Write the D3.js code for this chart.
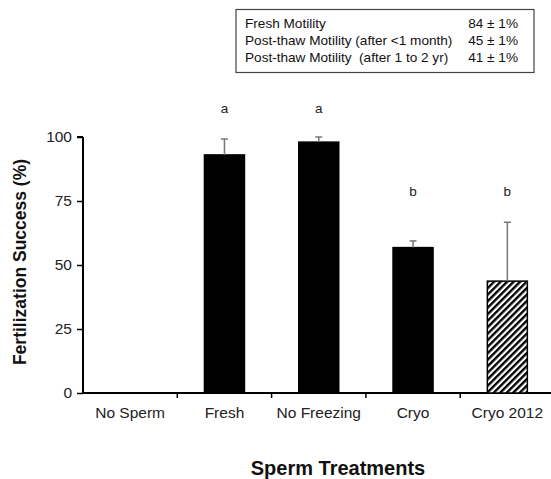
<!DOCTYPE html>
<html>
<head>
<meta charset="utf-8">
<script src="https://cdn.jsdelivr.net/npm/d3@7"></script>
<style>
  body { margin: 0; background: #fff; }
  text { font-family: "Liberation Sans", Arial, sans-serif; white-space: pre; }
</style>
</head>
<body>
<div id="chart"></div>
<script>
// data
const treatments = ["No Sperm", "Fresh", "No Freezing", "Cryo", "Cryo 2012"];
const success = [0, 93, 98, 56.8, 43.7];
const errors = [0, 6.2, 2, 2.6, 23];
const letters = ["", "a", "a", "b", "b"];
const hatched = [false, false, false, false, true];
const yTicks = [0, 25, 50, 75, 100];

const motilityLabels = ["Fresh Motility", "Post-thaw Motility (after <1 month)", "Post-thaw Motility  (after 1 to 2 yr)"];
const motilityValues = ["84 \u00b1 1%", "45 \u00b1 1%", "41 \u00b1 1%"];

const svg = d3.select("#chart")
    .append("svg")
        .attr("width", 551)
        .attr("height", 479);

// hatch pattern for the 2012 bar
const pattern = svg.append("defs")
    .append("pattern")
        .attr("id", "hatch")
        .attr("patternUnits", "userSpaceOnUse")
        .attr("width", 4.6)
        .attr("height", 4.6)
        .attr("patternTransform", "rotate(45)");
pattern.append("rect")
    .attr("width", 4.6)
    .attr("height", 4.6)
    .attr("fill", "white");
pattern.append("rect")
    .attr("width", 2.4)
    .attr("height", 4.6)
    .attr("fill", "black");

const x = d3.scaleBand()
    .domain(treatments)
    .range([83, 554.5]);

const y = d3.scaleLinear()
    .domain([0, 100])
    .range([393, 137]);

// axes
svg.append("g")
    .attr("transform", "translate(83,0)")
    .call(d3.axisLeft(y).tickValues(yTicks).tickSize(6).tickPadding(5))
    .call(g => g.select(".domain").attr("stroke-width", 2).attr("d", "M0," + y(0) + "V" + y(100) + "M-6," + y(100) + "H0"))
    .call(g => g.selectAll(".tick line").attr("stroke-width", 1.5))
    .call(g => g.selectAll(".tick text").attr("font-size", 15.5).attr("fill", "#222"));

const xAxis = svg.append("g")
    .attr("transform", "translate(0," + y(0) + ")");
xAxis.append("line")
    .attr("x1", 83)
    .attr("x2", 551)
    .attr("stroke", "black")
    .attr("stroke-width", 2);
xAxis.selectAll("line.tick")
    .data(treatments.slice(1))
    .enter()
    .append("line")
        .attr("class", "tick")
        .attr("x1", d => x(d))
        .attr("x2", d => x(d))
        .attr("y1", 0)
        .attr("y2", 5)
        .attr("stroke", "black")
        .attr("stroke-width", 1.5);
xAxis.selectAll("text")
    .data(treatments)
    .enter()
    .append("text")
        .attr("x", d => x(d) + x.bandwidth() / 2)
        .attr("y", 25)
        .attr("text-anchor", "middle")
        .attr("font-size", 15.5)
        .attr("fill", "#222")
        .text(d => d);

// bars
const barW = 40;
const rows = treatments.map((t, i) => ({ t: t, v: success[i], e: errors[i], l: letters[i], h: hatched[i] }));

svg.selectAll("rect.bar")
    .data(rows.filter(d => d.v > 0))
    .enter()
    .append("rect")
        .attr("class", "bar")
        .attr("x", d => x(d.t) + x.bandwidth() / 2 - barW / 2)
        .attr("y", d => y(d.v))
        .attr("width", barW)
        .attr("height", d => y(0) - y(d.v))
        .attr("fill", d => d.h ? "url(#hatch)" : "black")
        .attr("stroke", "black")
        .attr("stroke-width", 1.5);

// error bars (upper only)
const err = svg.selectAll("g.err")
    .data(rows.filter(d => d.v > 0))
    .enter()
    .append("g")
        .attr("class", "err")
        .attr("stroke", "#777")
        .attr("stroke-width", 1.5);
err.append("line")
    .attr("x1", d => x(d.t) + x.bandwidth() / 2)
    .attr("x2", d => x(d.t) + x.bandwidth() / 2)
    .attr("y1", d => y(d.v))
    .attr("y2", d => y(d.v + d.e));
err.append("line")
    .attr("x1", d => x(d.t) + x.bandwidth() / 2 - 3.5)
    .attr("x2", d => x(d.t) + x.bandwidth() / 2 + 3.5)
    .attr("y1", d => y(d.v + d.e))
    .attr("y2", d => y(d.v + d.e));

// significance letters
svg.selectAll("text.letter")
    .data(rows.filter(d => d.l))
    .enter()
    .append("text")
        .attr("class", "letter")
        .attr("x", d => x(d.t) + x.bandwidth() / 2)
        .attr("y", d => d.l === "a" ? 113 : 196)
        .attr("text-anchor", "middle")
        .attr("font-size", 13.5)
        .attr("fill", "#222")
        .text(d => d.l);

// axis titles
svg.append("text")
    .attr("transform", "rotate(-90)")
    .attr("x", -262)
    .attr("y", 26)
    .attr("text-anchor", "middle")
    .attr("font-size", 17.5)
    .attr("font-weight", "bold")
    .attr("fill", "#111")
    .text("Fertilization Success (%)");
svg.append("text")
    .attr("x", 338)
    .attr("y", 475)
    .attr("text-anchor", "middle")
    .attr("font-size", 20)
    .attr("font-weight", "bold")
    .attr("fill", "#111")
    .text("Sperm Treatments");

// motility box
svg.append("rect")
    .attr("x", 236)
    .attr("y", 9.5)
    .attr("width", 298)
    .attr("height", 63)
    .attr("fill", "white")
    .attr("stroke", "#444")
    .attr("stroke-width", 1.2);
svg.selectAll("text.mlabel")
    .data(motilityLabels)
    .enter()
    .append("text")
        .attr("class", "mlabel")
        .attr("x", 245)
        .attr("y", (d, i) => 28 + i * 17)
        .attr("font-size", 13.6)
        .attr("fill", "#111")
        .text(d => d);
svg.selectAll("text.mval")
    .data(motilityValues)
    .enter()
    .append("text")
        .attr("class", "mval")
        .attr("x", 518)
        .attr("y", (d, i) => 28 + i * 17)
        .attr("text-anchor", "end")
        .attr("font-size", 13.6)
        .attr("fill", "#111")
        .text(d => d);
</script>
</body>
</html>
